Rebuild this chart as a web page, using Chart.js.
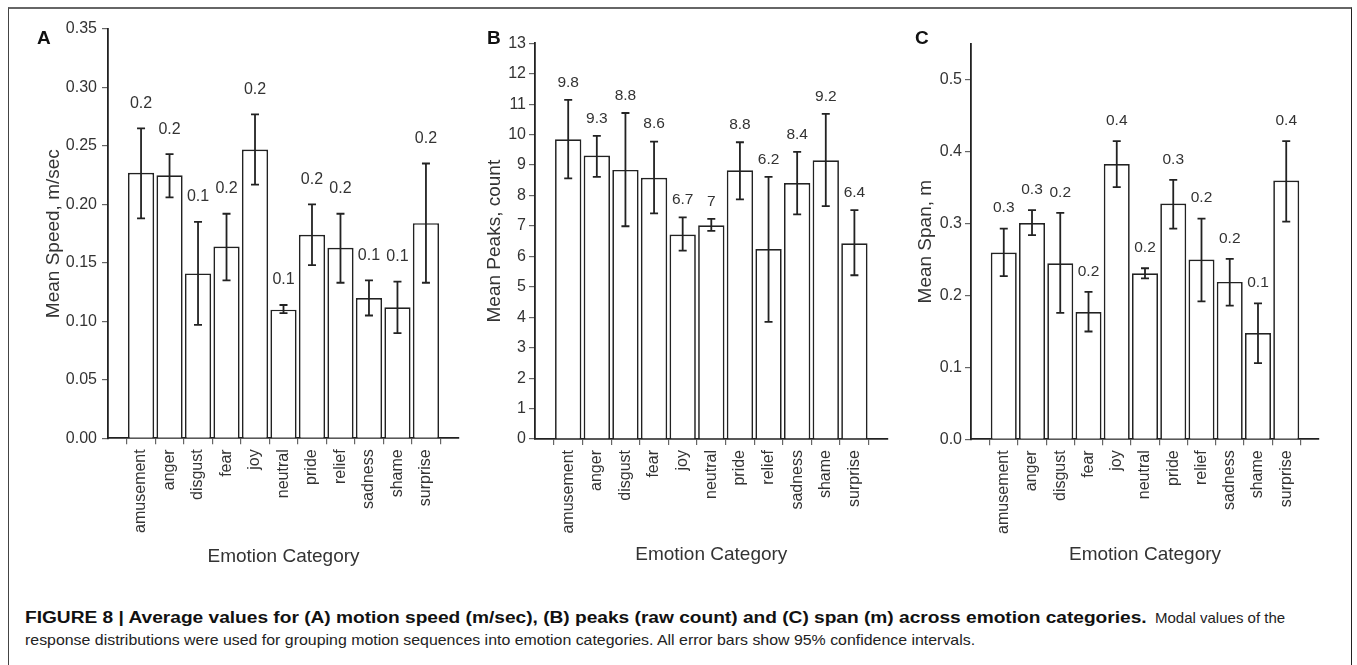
<!DOCTYPE html>
<html>
<head>
<meta charset="utf-8">
<script src="https://cdn.jsdelivr.net/npm/chart.js@4.4.1/dist/chart.umd.min.js"></script>
<style>
  html, body { margin: 0; padding: 0; background: #fff; }
  body { width: 1357px; height: 665px; position: relative; overflow: hidden; font-family: "Liberation Sans", Arial, sans-serif; }
  .frame { position: absolute; left: 8px; top: 7px; width: 1344px; height: 700px; border-top: 2px solid #666; border-left: 1.5px solid #444; border-right: 1.5px solid #222; box-sizing: border-box; }
  .panel { position: absolute; top: 0; height: 600px; }
  .letter { position: absolute; font: bold 19px "Liberation Sans", Arial, sans-serif; color: #111; line-height: 20px; }
  .cap { position: absolute; font-size: 15px; line-height: 22px; color: #222; white-space: nowrap; transform-origin: 0 50%; }
  .cap.b { font-weight: bold; font-size: 16px; color: #111; }
</style>
</head>
<body>
<div class="frame"></div>
<div class="panel" style="left:0px;width:470px;"><canvas id="cA"></canvas></div>
<div class="panel" style="left:470px;width:430px;"><canvas id="cB"></canvas></div>
<div class="panel" style="left:900px;width:457px;"><canvas id="cC"></canvas></div>
<div class="letter" style="left:37px;top:28px;">A</div>
<div class="letter" style="left:487px;top:28px;">B</div>
<div class="letter" style="left:915px;top:28px;">C</div>
<div class="cap b" style="left:25px;top:607px;transform:scaleX(1.195);">FIGURE 8 | Average values for (A) motion speed (m/sec), (B) peaks (raw count) and (C) span (m) across emotion categories.</div>
<div class="cap" style="left:1155px;top:607px;">Modal values of the</div>
<div class="cap" style="left:25px;top:629px;transform:scaleX(1.06);">response distributions were used for grouping motion sequences into emotion categories. All error bars show 95% confidence intervals.</div>
<script>
// ---- Data ----
const categories = ['amusement','anger','disgust','fear','joy','neutral','pride','relief','sadness','shame','surprise'];

const speedMean   = [0.227, 0.225, 0.141, 0.164, 0.247, 0.110, 0.174, 0.163, 0.120, 0.112, 0.184];
const speedLo     = [0.188, 0.206, 0.097, 0.135, 0.217, 0.107, 0.148, 0.133, 0.105, 0.090, 0.133];
const speedHi     = [0.265, 0.243, 0.185, 0.192, 0.277, 0.114, 0.200, 0.192, 0.135, 0.134, 0.235];
const speedLabels = ['0.2','0.2','0.1','0.2','0.2','0.1','0.2','0.2','0.1','0.1','0.2'];
const speedTicks  = [0, 0.05, 0.10, 0.15, 0.20, 0.25, 0.30, 0.35];

const peaksMean   = [9.85, 9.31, 8.84, 8.58, 6.72, 7.02, 8.83, 6.24, 8.41, 9.16, 6.43];
const peaksLo     = [8.56, 8.61, 6.99, 7.41, 6.19, 6.84, 7.87, 3.85, 7.38, 7.65, 5.38];
const peaksHi     = [11.14, 9.96, 10.71, 9.77, 7.28, 7.23, 9.75, 8.61, 9.43, 10.68, 7.52];
const peaksLabels = ['9.8','9.3','8.8','8.6','6.7','7','8.8','6.2','8.4','9.2','6.4'];
const peaksTicks  = [0,1,2,3,4,5,6,7,8,9,10,11,12,13];

const spanMean    = [0.260, 0.301, 0.245, 0.177, 0.383, 0.231, 0.328, 0.250, 0.219, 0.148, 0.360];
const spanLo      = [0.227, 0.284, 0.176, 0.150, 0.351, 0.224, 0.293, 0.192, 0.186, 0.106, 0.303];
const spanHi      = [0.293, 0.319, 0.315, 0.205, 0.415, 0.238, 0.361, 0.307, 0.251, 0.189, 0.415];
const spanLabels  = ['0.3','0.3','0.2','0.2','0.4','0.2','0.3','0.2','0.2','0.1','0.4'];
const spanTicks   = [0, 0.1, 0.2, 0.3, 0.4, 0.5];

const FONT = '"Liberation Sans", Arial, sans-serif';
const INK = '#222';
const TXT = '#333';

function errPlugin(lo, hi, labels, offset, fontSize) {
  return {
    id: 'errbars',
    afterDatasetsDraw(chart) {
      const ctx = chart.ctx, xs = chart.scales.x, ys = chart.scales.y;
      ctx.save();
      ctx.strokeStyle = INK;
      ctx.lineWidth = 1.8;
      for (let i = 0; i < lo.length; i++) {
        const x = xs.getPixelForValue(i);
        const yl = ys.getPixelForValue(lo[i]);
        const yh = ys.getPixelForValue(hi[i]);
        ctx.beginPath();
        ctx.moveTo(x, yl); ctx.lineTo(x, yh);
        ctx.moveTo(x - 4, yl); ctx.lineTo(x + 4, yl);
        ctx.moveTo(x - 4, yh); ctx.lineTo(x + 4, yh);
        ctx.stroke();
      }
      ctx.fillStyle = TXT;
      ctx.font = fontSize + 'px ' + FONT;
      ctx.textAlign = 'center';
      ctx.textBaseline = 'middle';
      for (let i = 0; i < labels.length; i++) {
        const x = xs.getPixelForValue(i);
        const yh = ys.getPixelForValue(hi[i]);
        ctx.fillText(labels[i], x, yh - offset);
      }
      ctx.restore();
    }
  };
}

function makeChart(id, cfg) {
  const data = cfg.mean.map((v, i) => ({ x: i, y: v }));
  return new Chart(document.getElementById(id), {
    type: 'bar',
    data: {
      datasets: [{
        data: data,
        backgroundColor: '#ffffff',
        borderColor: INK,
        borderWidth: 1.7,
        borderSkipped: 'bottom',
        barPercentage: 0.92,
        categoryPercentage: 1.0
      }]
    },
    options: {
      responsive: true,
      maintainAspectRatio: false,
      animation: false,
      events: [],
      layout: { padding: { left: 0, top: cfg.top, right: cfg.right, bottom: 0 } },
      plugins: { legend: { display: false }, tooltip: { enabled: false } },
      scales: {
        x: {
          type: 'linear',
          min: -0.6, max: 10.6,
          afterBuildTicks: (axis) => { axis.ticks = categories.map((c, i) => ({ value: i })); },
          afterFit: (s) => { s.height = cfg.xHeight; },
          ticks: {
            autoSkip: false, minRotation: 90, maxRotation: 90, padding: 5,
            color: TXT, font: { family: FONT, size: 16 },
            callback: (v) => categories[v]
          },
          grid: { drawOnChartArea: false, drawTicks: true, tickLength: 6, color: '#666', lineWidth: 1.2 },
          border: { display: true, color: INK, width: 1.8 },
          title: { display: true, text: 'Emotion Category', color: TXT, font: { family: FONT, size: 19 }, padding: { top: 0, bottom: cfg.xTitlePad } }
        },
        y: {
          min: 0, max: cfg.max,
          afterBuildTicks: (axis) => { axis.ticks = cfg.ticks.map(v => ({ value: v })); },
          afterFit: (s) => { s.width = cfg.yWidth; },
          ticks: {
            padding: cfg.tickPad, color: TXT, font: { family: FONT, size: 16 },
            callback: cfg.fmt
          },
          grid: { drawOnChartArea: false, drawTicks: true, tickLength: 6, color: '#666', lineWidth: 1.2 },
          border: { display: true, color: INK, width: 1.8 },
          title: { display: true, text: cfg.yTitle, color: TXT, font: { family: FONT, size: 19 }, padding: { top: cfg.yTitlePad, bottom: 0 } }
        }
      }
    },
    plugins: [errPlugin(cfg.lo, cfg.hi, cfg.labels, cfg.labelOffset, cfg.labelSize)]
  });
}

makeChart('cA', {
  mean: speedMean, lo: speedLo, hi: speedHi, labels: speedLabels, ticks: speedTicks,
  max: 0.35, fmt: (v) => v.toFixed(2), yTitle: 'Mean Speed, m/sec',
  top: 29, right: 11, yWidth: 108, xHeight: 161.7, xTitlePad: 32, yTitlePad: 42, tickPad: 5, labelOffset: 25, labelSize: 16
});
makeChart('cB', {
  mean: peaksMean, lo: peaksLo, hi: peaksHi, labels: peaksLabels, ticks: peaksTicks,
  max: 13, fmt: (v) => String(v), yTitle: 'Mean Peaks, count',
  top: 43.3, right: 12.4, yWidth: 65, xHeight: 161, xTitlePad: 33.6, yTitlePad: 13.6, tickPad: 3, labelOffset: 17.5, labelSize: 15.5
});
makeChart('cC', {
  mean: spanMean, lo: spanLo, hi: spanHi, labels: spanLabels, ticks: spanTicks,
  max: 0.55, fmt: (v) => v.toFixed(1), yTitle: 'Mean Span, m',
  top: 44, right: 38, yWidth: 71, xHeight: 160.7, xTitlePad: 33.6, yTitlePad: 14.6, tickPad: 3, labelOffset: 20.5, labelSize: 15.5
});
</script>
</body>
</html>
